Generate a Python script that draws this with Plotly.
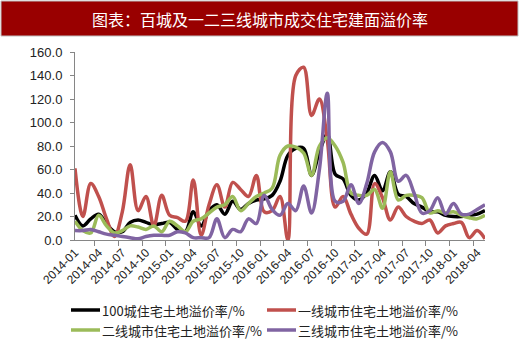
import plotly.graph_objects as go

months = [
    "2014-01", "2014-02", "2014-03", "2014-04", "2014-05", "2014-06", "2014-07", "2014-08", "2014-09", "2014-10", "2014-11", "2014-12",
    "2015-01", "2015-02", "2015-03", "2015-04", "2015-05", "2015-06", "2015-07", "2015-08", "2015-09", "2015-10", "2015-11", "2015-12",
    "2016-01", "2016-02", "2016-03", "2016-04", "2016-05", "2016-06", "2016-07", "2016-08", "2016-09", "2016-10", "2016-11", "2016-12",
    "2017-01", "2017-02", "2017-03", "2017-04", "2017-05", "2017-06", "2017-07", "2017-08", "2017-09", "2017-10", "2017-11", "2017-12",
    "2018-01", "2018-02", "2018-03", "2018-04", "2018-05",
]

city100 = [21, 12, 18, 22, 14, 7, 7, 15, 17, 15, 13, 14,
           15, 9, 7, 24, 12, 25, 30, 22, 33, 26, 31, 34,
           35, 38, 50, 72, 78, 78, 55, 75, 90, 56, 52, 38,
           34, 40, 55, 42, 58, 39, 37, 31, 28, 24, 24, 21,
           20, 20, 21, 22, 25]

tier1 = [61, 20, 48, 37, 18, 3, 24, 64, 25, 37, 12, 38,
         21, 19, 16, 51, 4, 30, 47, 28, 49, 43, 37, 55,
         24, 25, 37, 0, 140, 147, 106, 120, 85, 28, 37, 22,
         10, 5, 48, 36, 17, 28, 20, 16, 14, 17, 6, 12,
         14, 15, 2, 8, 1]

tier2 = [16, 8, 6, 21, 12, 6, 8, 12, 11, 9, 12, 7,
         16, 12, 7, 16, 18, 23, 28, 30, 37, 25, 31, 37,
         40, 44, 72, 80, 79, 74, 55, 80, 87, 80, 66, 40,
         38, 38, 43, 27, 58, 34, 38, 38, 36, 23, 25, 23,
         24, 21, 19, 18, 21]

tier3 = [8, 8, 9, 7, 5, 4, 3, 2, 1, 3, 4, 4,
         4, 7, 6, 2, 2, 2, 18, 2, 9, 7, 18, 14,
         38, 26, 21, 31, 25, 46, 23, 60, 125, 33, 33, 47,
         31, 48, 75, 83, 75, 50, 55, 40, 23, 25, 36, 22,
         31, 22, 22, 26, 30]

series_names = ["100城住宅土地溢价率/%", "一线城市住宅土地溢价率/%",
                "二线城市住宅土地溢价率/%", "三线城市住宅土地溢价率/%"]
series_values = [city100, tier1, tier2, tier3]
series_colors = ["#000000", "#C0504D", "#9BBB59", "#8064A2"]

y_ticks = [0, 20, 40, 60, 80, 100, 120, 140, 160]
y_ticktext = ["%.1f" % v for v in y_ticks]

title_text = "图表：百城及一二三线城市成交住宅建面溢价率"

fig = go.Figure()
for name, vals, col in zip(series_names, series_values, series_colors):
    fig.add_trace(go.Scatter(
        x=months, y=vals, name=name, mode="lines",
        line=dict(color=col, width=3.5, shape="spline", smoothing=1.0),
        showlegend=False,
    ))

# plot area in pixels: x 75..485, y 52..240
L, R, T, B = 75, 35, 52, 100
W, H = 520, 340
pw, ph = W - L - R, H - T - B


def px(x):
    return (x - L) / pw


def py(y):
    return (H - B - y) / ph


shapes = [
    dict(type="rect", xref="paper", yref="paper",
         x0=px(1), x1=px(518), y0=py(36), y1=py(1),
         fillcolor="#990000", line=dict(color="#bfbfbf", width=1), layer="above"),
]
annotations = [
    dict(text=title_text, xref="paper", yref="paper", x=px(260), y=py(19),
         xanchor="center", yanchor="middle", showarrow=False,
         font=dict(family="Noto Sans CJK SC", size=16, color="#ffffff")),
]

legend_pos = [(71, 310), (267, 310), (71, 330), (267, 330)]
for (lx, ly), name, col in zip(legend_pos, series_names, series_colors):
    shapes.append(dict(type="line", xref="paper", yref="paper",
                       x0=px(lx), x1=px(lx + 29), y0=py(ly), y1=py(ly),
                       line=dict(color=col, width=3.5)))
    annotations.append(dict(text=name, xref="paper", yref="paper",
                            x=px(lx + 29), y=py(ly), xanchor="left", yanchor="middle",
                            showarrow=False,
                            font=dict(family="Noto Sans CJK SC", size=13, color="#222222")))

fig.update_layout(
    width=W, height=H,
    margin=dict(l=L, r=R, t=T, b=B, pad=0),
    paper_bgcolor="#ffffff", plot_bgcolor="#ffffff",
    shapes=shapes, annotations=annotations,
    font=dict(family="Liberation Sans", color="#222222"),
)
fig.update_xaxes(
    type="category", dtick=3, tickson="boundaries",
    ticks="outside", ticklen=5, tickcolor="#868686",
    tickangle=-45, tickfont=dict(size=12, color="#222222"),
    showline=True, linecolor="#868686", linewidth=1,
    showgrid=False, zeroline=False,
)
fig.update_yaxes(
    range=[0, 160], tickvals=y_ticks, ticktext=y_ticktext,
    ticks="outside", ticklen=4, tickcolor="#868686",
    ticklabelstandoff=5,
    tickfont=dict(size=13, color="#222222"),
    showline=True, linecolor="#868686", linewidth=1,
    showgrid=False, zeroline=False,
)

fig.write_html("out.html")
